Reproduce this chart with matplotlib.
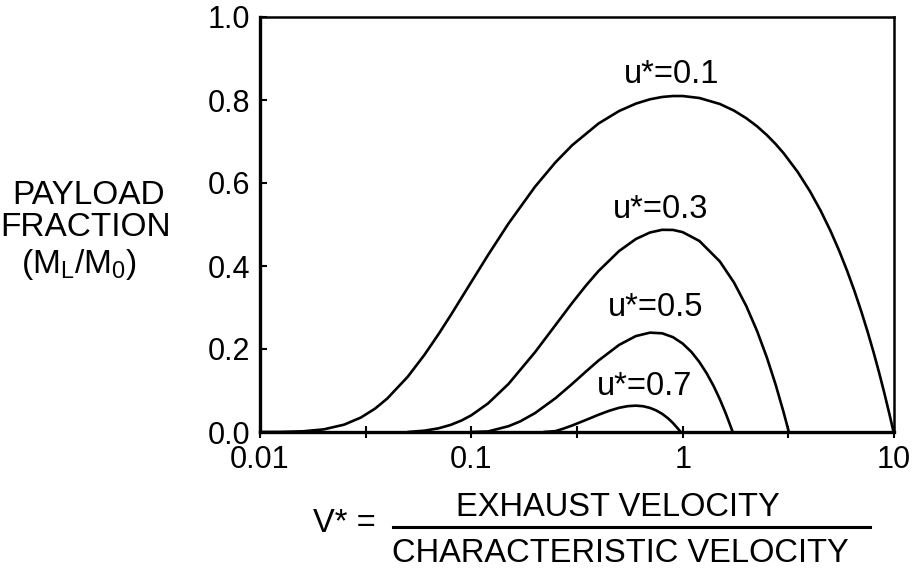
import matplotlib
matplotlib.use("Agg")
import matplotlib.pyplot as plt
from matplotlib.lines import Line2D
from matplotlib.ticker import NullFormatter

plt.rcParams['font.family'] = ['Liberation Sans', 'DejaVu Sans']
plt.rcParams['mathtext.fontset'] = 'custom'
plt.rcParams['mathtext.rm'] = 'Liberation Sans'
plt.rcParams['mathtext.it'] = 'Liberation Sans:italic'

# ---- data ----
V01 = [0.01, 0.0125, 0.016, 0.02, 0.025, 0.03, 0.035, 0.04, 0.05, 0.06, 0.07, 0.08,
       0.1, 0.12, 0.15, 0.2, 0.25, 0.3, 0.4, 0.5, 0.6, 0.7, 0.8, 0.9, 1.0, 1.2, 1.5,
       1.75, 2.0, 2.25, 2.5, 2.75, 3.0, 3.5, 4.0, 4.5, 5.0, 5.5, 6.0, 6.5, 7.0, 7.5,
       8.0, 8.5, 9.0, 9.5, 9.75, 9.95]
P01 = [0.0, 0.0002, 0.0017, 0.0063, 0.0177, 0.0348, 0.0562, 0.0806, 0.1331, 0.1860,
       0.2360, 0.2819, 0.3616, 0.4265, 0.5025, 0.5908, 0.6497, 0.6910, 0.7434, 0.7734,
       0.7912, 0.8017, 0.8073, 0.8096, 0.8096, 0.8048, 0.7904, 0.7744, 0.7561, 0.7365,
       0.7157, 0.6942, 0.6721, 0.6268, 0.5803, 0.5330, 0.4852, 0.4370, 0.3884, 0.3397,
       0.2908, 0.2417, 0.1926, 0.1433, 0.0939, 0.0445, 0.0198, 0.0]

V03 = [0.05, 0.06, 0.07, 0.08, 0.09, 0.1, 0.12, 0.15, 0.2, 0.25, 0.3, 0.35, 0.4, 0.5,
       0.6, 0.7, 0.8, 0.9, 1.0, 1.2, 1.5, 1.75, 2.0, 2.25, 2.5, 2.75, 3.0, 3.1, 3.18]
P03 = [0.0, 0.0032, 0.0089, 0.0173, 0.0279, 0.0403, 0.0689, 0.1159, 0.1921, 0.2575,
       0.3110, 0.3539, 0.3880, 0.4360, 0.4649, 0.4807, 0.4872, 0.4869, 0.4816, 0.4603,
       0.4109, 0.3600, 0.3035, 0.2432, 0.1802, 0.1151, 0.0484, 0.0213, 0.0]

V05 = [0.1, 0.12, 0.15, 0.17, 0.2, 0.25, 0.3, 0.35, 0.4, 0.5, 0.6, 0.7, 0.8, 0.9, 1.0,
       1.1, 1.2, 1.3, 1.4, 1.5, 1.6, 1.7, 1.725]
P05 = [0.0, 0.0013, 0.0140, 0.0254, 0.0454, 0.0813, 0.1159, 0.1465, 0.1723, 0.2098,
       0.2311, 0.2394, 0.2378, 0.2285, 0.2131, 0.1929, 0.1686, 0.1411, 0.1111, 0.0787,
       0.0445, 0.0088, 0.0]

V07 = [0.22, 0.25, 0.27, 0.3, 0.35, 0.4, 0.45, 0.5, 0.55, 0.6, 0.65, 0.7, 0.75, 0.8,
       0.85, 0.9, 0.95, 0.97, 0.98]
P07 = [0.0, 0.0021, 0.0074, 0.0157, 0.0294, 0.0416, 0.0513, 0.0583, 0.0623, 0.0635,
       0.0621, 0.0581, 0.0519, 0.0437, 0.0335, 0.0216, 0.0081, 0.0023, 0.0]

curve_labels = ['u*=0.1', 'u*=0.3', 'u*=0.5', 'u*=0.7']
label_x = [0.887, 0.787, 0.745, 0.660]
label_y = [0.824, 0.499, 0.263, 0.072]

x_ticks = [0.01, 0.1, 1, 10]
x_tick_labels = ['0.01', '0.1', '1', '10']
x_minor_ticks = [0.0316, 0.316, 3.16]
y_ticks = [0.0, 0.2, 0.4, 0.6, 0.8, 1.0]
y_tick_labels = ['0.0', '0.2', '0.4', '0.6', '0.8', '1.0']

# ---- figure ----
W, H = 922, 570
fig = plt.figure(figsize=(W / 100, H / 100), dpi=100)
fig.patch.set_facecolor('white')
ax = fig.add_axes([260 / W, (H - 432) / H, 634 / W, 415 / H])

for xs, ys in [(V01, P01), (V03, P03), (V05, P05), (V07, P07)]:
    ax.plot(xs, ys, color='black', lw=1.9, solid_capstyle='round',
            solid_joinstyle='round', zorder=3)

ax.set_xscale('log')
ax.set_xlim(0.01, 10)
ax.set_ylim(0.0, 1.0)
ax.set_xticks(x_ticks)
ax.set_xticklabels(x_tick_labels)
ax.set_xticks(x_minor_ticks, minor=True)
ax.xaxis.set_minor_formatter(NullFormatter())
ax.set_yticks(y_ticks)
ax.set_yticklabels(y_tick_labels)

ax.tick_params(axis='x', which='both', direction='inout', length=8, width=1.5,
               pad=5, labelsize=22)
ax.tick_params(axis='y', which='both', direction='in', length=5, width=1.5,
               pad=7, labelsize=22)
for side in ['left', 'bottom']:
    ax.spines[side].set_linewidth(2.4)
for side in ['top', 'right']:
    ax.spines[side].set_linewidth(1.8)

for txt, lx, ly in zip(curve_labels, label_x, label_y):
    ax.text(lx, ly, txt, ha='center', va='bottom', fontsize=23.5)

# y-axis label (three lines)
fig.text(89 / W, 1 - 195 / H, 'PAYLOAD', ha='center', va='center', fontsize=24)
fig.text(86 / W, 1 - 228 / H, 'FRACTION', ha='center', va='center', fontsize=24)
fig.text(79 / W, 1 - 264 / H, r'(M$_{\mathrm{L}}$/M$_{\mathrm{0}}$)', ha='center',
         va='center', fontsize=24)

# x-axis label as a fraction
fig.text(313 / W, 1 - 524 / H, 'V* =', ha='left', va='center', fontsize=23.5)
fig.text(618 / W, 1 - 507 / H, 'EXHAUST VELOCITY', ha='center', va='center',
         fontsize=23.5)
fig.text(620 / W, 1 - 553 / H, 'CHARACTERISTIC VELOCITY', ha='center', va='center',
         fontsize=23.5)
fig.add_artist(Line2D([393 / W, 870 / W], [1 - 527 / H, 1 - 527 / H],
                      transform=fig.transFigure, color='black', lw=2.2))

fig.savefig('out.png', dpi=100, facecolor='white')
